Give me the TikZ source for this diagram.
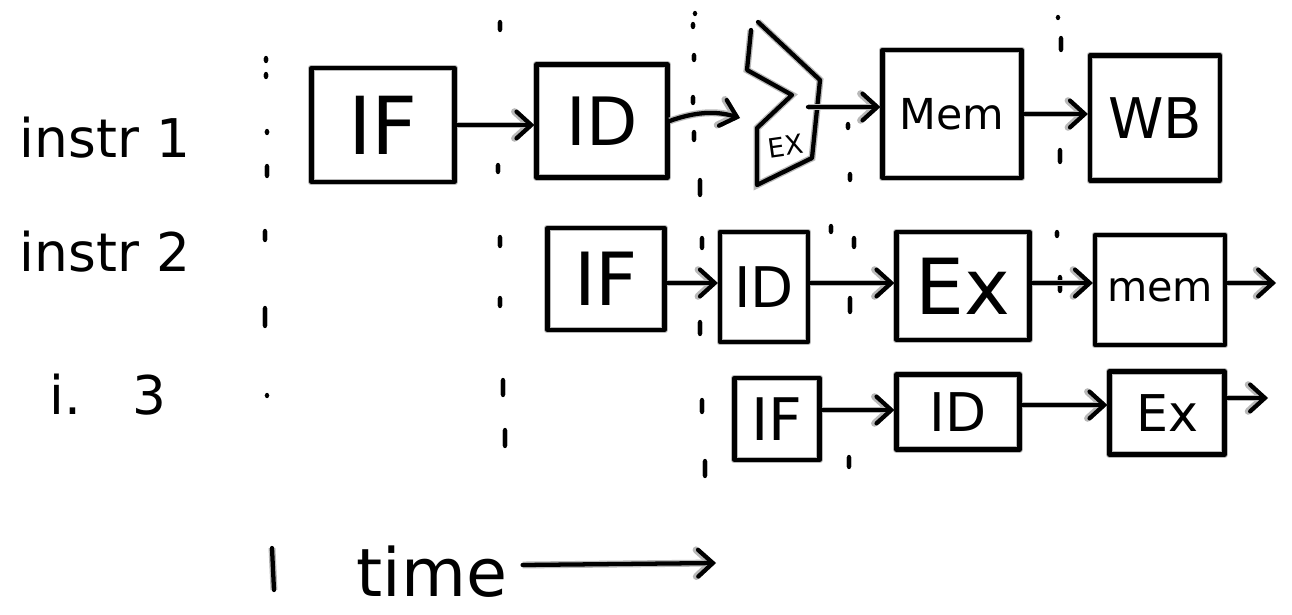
\documentclass[tikz,border=0pt]{standalone}
\usepackage{fontspec}
\setmainfont{DejaVu Sans}
\usetikzlibrary{arrows.meta}
\begin{document}
\begin{tikzpicture}[x=0.75pt,y=-0.75pt,
  ink/.style={line width=3.2pt, line cap=round, line join=round, draw=black,
              preaction={draw=gray!55, line width=5.2pt}},
  stage/.style={ink, rectangle, inner sep=0pt},
  sz/.style 2 args={minimum width=#1*0.75pt, minimum height=#2*0.75pt},
  fs/.style={font=\fontsize{#1}{#1}\selectfont},
  flow/.style={ink, -{Straight Barb[length=11pt,width=20pt,line cap=round]}},
  lbl/.style={fs=40, inner sep=0pt}]
\useasboundingbox (0,0) rectangle (1292,614);

% row labels
\node[lbl] (l1) at (105,138) {instr 1};
\node[lbl] (l2) at (105,252) {instr 2};
\node[lbl] (l3) at (108,395) {i.\hspace{38pt}3};

% vertical cycle separators (hand-drawn dotted)
\foreach \a/\b/\c in {266/58/61, 266/74/77, 267/131/133, 267/166/176, 265/231/240, 265/308/326, 267/395/396,
  500/22/30, 498/165/172, 500/237/246, 500/298/306, 503/380/395, 505/430/446,
  695/13/14, 693/24/27, 694/55/60, 693/97/103, 694/132/140, 700/180/195, 702/238/248, 700/322/334, 702/400/412, 705/461/476,
  848/124/128, 850/174/180, 831/226/232, 854/238/247, 850/298/312, 849/457/467,
  1058/17/18, 1061/38/50, 1060/150/162, 1057/232/236, 1060/277/291}
  \draw[ink] (\a,\b) -- (\a,\c);

% row 1
\node[stage, sz={143}{114}, fs=60] (if1) at (383,125) {IF};
\node[stage, sz={131}{113}, fs=50] (id1) at (602,121) {ID};
\draw[ink] (751,30) -- (747,70) -- (792,95) -- (757,128) -- (757,185) -- (812,158) -- (820,80) -- (758,22);
\node[fs=20, rotate=8, inner sep=0pt] (ex1) at (786,146) {EX};
\coordinate (ex1in) at (740,118);
\coordinate (ex1out) at (808,107);
\node[stage, sz={139}{128}, fs=32] (mem1) at (952,114) {Mem};
\node[stage, sz={130}{125}, fs=42] (wb1) at (1155,118) {WB};

\draw[flow] (if1.east) -- (id1.west |- if1.east);
\draw[flow] (id1.east) .. controls (700,110) and (720,112) .. (ex1in);
\draw[flow] (ex1out) -- (mem1.west |- ex1out);
\draw[flow] (mem1.east) -- (wb1.west |- mem1.east);

% row 2
\node[stage, sz={117}{102}, fs=55] (if2) at (606,279) {IF};
\node[stage, sz={88}{110}, fs=42] (id2) at (764,287) {ID};
\node[stage, sz={133}{108}, fs=58] (ex2) at (963,286) {Ex};
\node[stage, sz={130}{110}, fs=31] (mem2) at (1160,290) {mem};
\coordinate (out2) at (1276,283);

\draw[flow] (if2.east |- 0,283) -- (id2.west |- 0,283);
\draw[flow] (id2.east |- 0,283) -- (ex2.west |- 0,283);
\draw[flow] (ex2.east |- 0,283) -- (mem2.west |- 0,283);
\draw[flow] (mem2.east |- 0,283) -- (out2);

% row 3
\node[stage, sz={85}{82}, fs=44] (if3) at (777,419) {IF};
\node[stage, sz={123}{75}, fs=40] (id3) at (958,412) {ID};
\node[stage, sz={115}{83}, fs=38] (ex3) at (1167,413) {Ex};
\coordinate (out3) at (1268,398);

\draw[flow] (if3.east |- 0,410) -- (id3.west |- 0,410);
\draw[flow] (id3.east |- 0,405) -- (ex3.west |- 0,405);
\draw[flow] (ex3.east |- 0,398) -- (out3);

% time axis
\draw[ink] (272,548) -- (274,590);
\node[fs=50, inner sep=0pt] (time) at (432,572) {time};
\coordinate (tend) at (716,563);
\draw[flow] (time.east |- 0,565) ++(15,0) -- (tend);
\end{tikzpicture}
\end{document}
